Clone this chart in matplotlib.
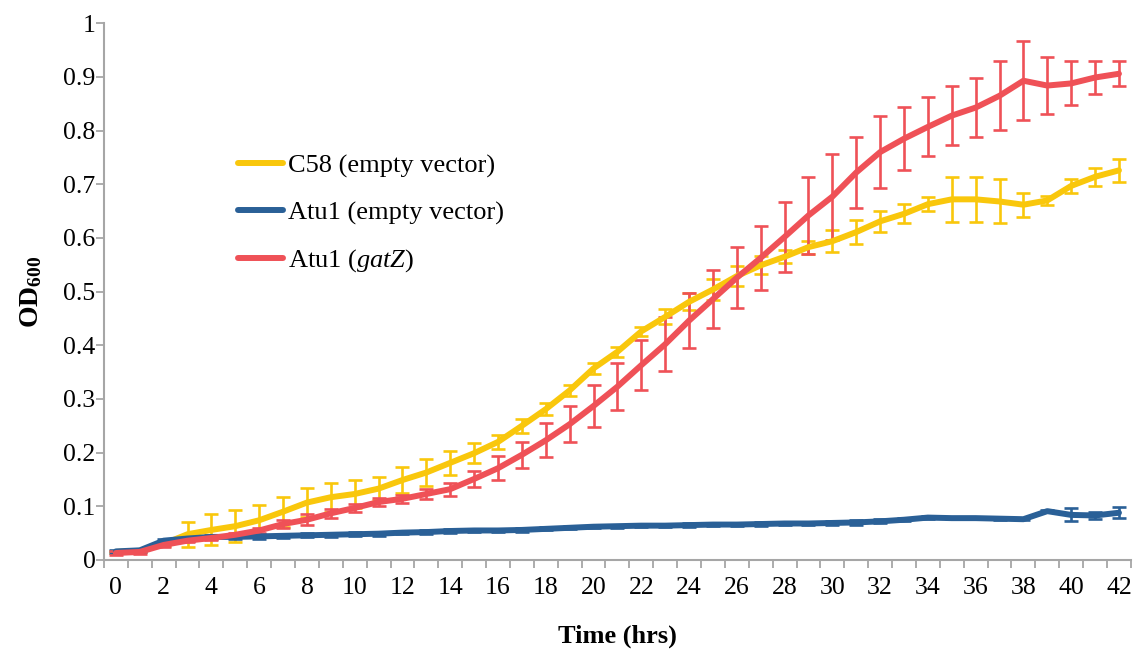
import matplotlib
matplotlib.use("Agg")
import matplotlib.pyplot as plt
from matplotlib.lines import Line2D
import numpy as np

hours = list(range(43))

c58 = [0.015, 0.017, 0.030, 0.048, 0.056, 0.063, 0.074, 0.090, 0.107, 0.117,
       0.123, 0.133, 0.149, 0.163, 0.181, 0.199, 0.220, 0.250, 0.281, 0.316,
       0.357, 0.388, 0.426, 0.453, 0.481, 0.504, 0.529, 0.549, 0.565, 0.583,
       0.594, 0.611, 0.631, 0.645, 0.663, 0.672, 0.672, 0.668, 0.662, 0.670,
       0.697, 0.714, 0.726]
c58_err = [0.002, 0.002, 0.004, 0.023, 0.029, 0.030, 0.028, 0.028, 0.027, 0.027,
           0.026, 0.022, 0.025, 0.025, 0.022, 0.019, 0.013, 0.013, 0.011, 0.010,
           0.010, 0.009, 0.009, 0.014, 0.016, 0.019, 0.019, 0.017, 0.012, 0.012,
           0.020, 0.023, 0.019, 0.018, 0.013, 0.042, 0.042, 0.041, 0.022, 0.008,
           0.013, 0.017, 0.021]

atu1 = [0.016, 0.018, 0.036, 0.040, 0.043, 0.043, 0.044, 0.045, 0.046, 0.047,
        0.048, 0.049, 0.051, 0.052, 0.054, 0.055, 0.055, 0.056, 0.058, 0.060,
        0.062, 0.063, 0.064, 0.064, 0.065, 0.066, 0.066, 0.067, 0.068, 0.068,
        0.069, 0.070, 0.072, 0.075, 0.079, 0.078, 0.078, 0.077, 0.076, 0.091,
        0.084, 0.083, 0.088]
atu1_err = [0.003, 0.003, 0.004, 0.004, 0.004, 0.004, 0.004, 0.004, 0.004, 0.004,
            0.004, 0.004, 0.003, 0.004, 0.003, 0.003, 0.003, 0.003, 0.003, 0.003,
            0.003, 0.003, 0.003, 0.003, 0.003, 0.003, 0.003, 0.003, 0.003, 0.003,
            0.003, 0.004, 0.004, 0.003, 0.003, 0.002, 0.002, 0.003, 0.002, 0.002,
            0.012, 0.006, 0.010]

gatz = [0.013, 0.015, 0.028, 0.036, 0.041, 0.047, 0.055, 0.067, 0.075, 0.087,
        0.097, 0.108, 0.114, 0.123, 0.132, 0.151, 0.171, 0.196, 0.223, 0.253,
        0.287, 0.323, 0.363, 0.402, 0.446, 0.486, 0.526, 0.563, 0.602, 0.642,
        0.677, 0.722, 0.760, 0.785, 0.807, 0.828, 0.843, 0.865, 0.893, 0.884,
        0.888, 0.899, 0.906]
gatz_err = [0.003, 0.003, 0.003, 0.003, 0.003, 0.004, 0.004, 0.008, 0.010, 0.008,
            0.008, 0.008, 0.008, 0.010, 0.012, 0.015, 0.022, 0.024, 0.032, 0.033,
            0.039, 0.044, 0.047, 0.050, 0.051, 0.054, 0.057, 0.060, 0.065, 0.072,
            0.080, 0.066, 0.067, 0.059, 0.055, 0.055, 0.055, 0.064, 0.074, 0.053,
            0.041, 0.030, 0.023]

labels = ["C58 (empty vector)", "Atu1 (empty vector)", r"Atu1 ($\mathit{gatZ}$)"]
colors = ["#F9C70C", "#2A6097", "#EF5157"]

plt.rcParams['font.family'] = ['Liberation Serif', 'DejaVu Serif']
plt.rcParams['mathtext.fontset'] = 'custom'
plt.rcParams['mathtext.rm'] = 'Liberation Serif'
plt.rcParams['mathtext.it'] = 'Liberation Serif:italic'
plt.rcParams['mathtext.bf'] = 'Liberation Serif:bold'

fig = plt.figure(figsize=(11.36, 6.51), dpi=100)
ax = fig.add_axes([0.0915, 0.1398, 0.904, 0.8244])

series = [(c58, c58_err), (atu1, atu1_err), (gatz, gatz_err)]
for (vals, errs), col in zip(series, colors):
    ax.errorbar(hours, vals, yerr=errs, fmt='none', ecolor=col, elinewidth=1.9,
                capsize=5.2, capthick=1.9, zorder=2)
    ax.plot(hours, vals, color=col, lw=4.3, solid_joinstyle='round',
            solid_capstyle='round', zorder=3)

ax.set_xlim(-0.5, 42.5)
ax.set_ylim(0, 1)
ax.set_xticks(range(0, 43, 2))
ax.set_xticks(np.arange(-0.5, 43, 1), minor=True)
ax.tick_params(axis='x', which='major', length=0, pad=12, labelsize=18.5)
ax.tick_params(axis='x', which='minor', length=6, width=1.3, color='#A6A6A6', direction='out')
ax.set_yticks(np.arange(0, 1.01, 0.1))
ax.set_yticklabels(['0'] + ['%.1f' % v for v in np.arange(0.1, 0.95, 0.1)] + ['1'])
ax.tick_params(axis='y', length=5.5, width=1.3, color='#A6A6A6', direction='out', pad=0.5, labelsize=18.5)
for s in ['top', 'right']:
    ax.spines[s].set_visible(False)
for s in ['left', 'bottom']:
    ax.spines[s].set_color('#A6A6A6')
    ax.spines[s].set_linewidth(1.5)

ax.set_xlabel('Time (hrs)', fontsize=19, fontweight='bold', labelpad=19)
ax.set_ylabel(r'$\mathbf{OD_{600}}$', fontsize=20, labelpad=14)

handles = [Line2D([0], [0], color=c, lw=4.3, solid_capstyle='round') for c in colors]
ax.legend(handles, labels, loc='upper left', bbox_to_anchor=(0.12, 0.7765),
          frameon=False, fontsize=19, handlelength=1.7, handletextpad=0.2,
          labelspacing=0.87, borderaxespad=0)

fig.savefig('out.png', dpi=100)
